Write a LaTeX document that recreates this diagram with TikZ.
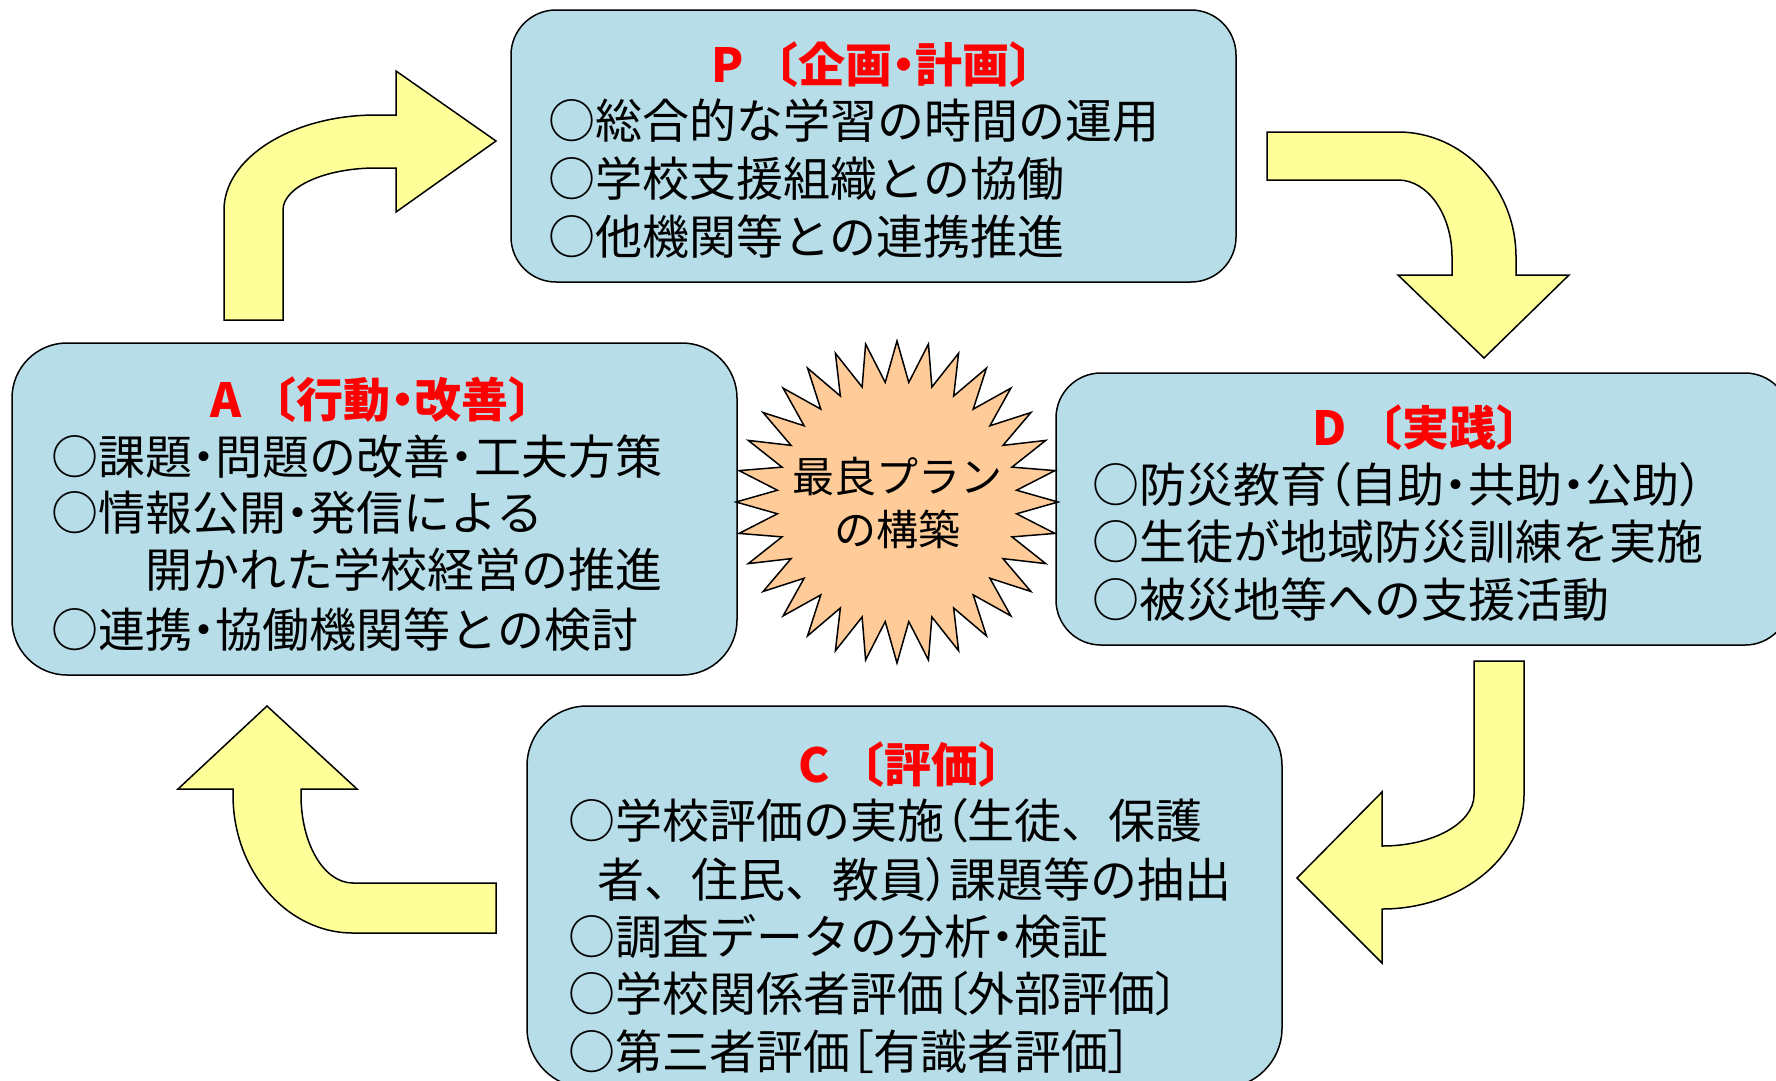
\documentclass[tikz,border=0pt]{standalone}
\usepackage{fontspec}
\setmainfont{Noto Sans CJK JP}
\usetikzlibrary{shapes.geometric}

\definecolor{boxfill}{RGB}{183,222,232}
\definecolor{arrowfill}{RGB}{255,255,153}
\definecolor{starfill}{RGB}{255,204,153}
\definecolor{titlered}{RGB}{255,0,0}

% narrow punctuation
\newcommand\prop[1]{{\addfontfeature{RawFeature=+palt}#1}}
\newcommand\dt{\prop{・}}

\begin{document}
\begin{tikzpicture}[x=1pt,y=-1pt,
  box/.style={draw,line width=1.5pt,fill=boxfill,inner sep=0pt},
  title/.style={text=titlered,inner sep=0pt,text height=41pt,text depth=6pt,
    font=\fontsize{47}{47}\selectfont\bfseries},
  item/.style={anchor=west,inner sep=0pt,text height=41pt,text depth=6pt,
    font=\fontsize{47}{47}\selectfont},
  bigarrow/.style={draw,line width=1.5pt,fill=arrowfill}]

\useasboundingbox (0,0) rectangle (1776,1080);
\clip (0,0) rectangle (1776,1080);

% arrows
\draw[bigarrow] (224,320) -- (224,210) .. controls (224,158) and (292,115) .. (376,115)
  -- (396,115) -- (396,71) -- (496,141) -- (396,212) -- (396,168) -- (376,168)
  .. controls (325,168) and (283,187) .. (283,210) -- (283,320) -- cycle;

\draw[bigarrow] (1267,132) -- (1398,132) .. controls (1463,132) and (1516,188) .. (1516,257)
  -- (1516,275) -- (1569,275) -- (1484,358) -- (1398,275) -- (1452,275) -- (1452,257)
  .. controls (1452,215) and (1428,180) .. (1398,180) -- (1267,180) -- cycle;

\draw[bigarrow] (1474,661) -- (1524,661) -- (1524,795) .. controls (1524,858) and (1460,909) .. (1382,909)
  -- (1382,963) -- (1297,878) -- (1382,792) -- (1382,846)
  .. controls (1433,846) and (1474,823) .. (1474,795) -- cycle;

\draw[bigarrow] (496,883) -- (353,883) .. controls (324,883) and (301,844) .. (301,795)
  -- (301,789) -- (357,789) -- (267,706) -- (178,789) -- (233,789) -- (233,795)
  .. controls (233,871) and (287,933) .. (353,933) -- (496,933) -- cycle;

% boxes
\node[box,minimum width=725pt,minimum height=272pt,rounded corners=45pt] (pbox) at (873.5,146) {};
\node[box,minimum width=725pt,minimum height=332pt,rounded corners=55pt] (abox) at (374.5,509) {};
\node[box,minimum width=734pt,minimum height=272pt,rounded corners=45pt] (dbox) at (1423,509) {};
\node[box,minimum width=755pt,minimum height=382pt,rounded corners=60pt] (cbox) at (904.5,897) {};

% star
\node[star,star points=32,star point ratio=1.34,minimum size=322pt,inner sep=0pt,
  draw,line width=1.5pt,fill=starfill] (seal) at (897,502) {};
\node[align=center,font=\fontsize{42}{53}\selectfont] (plan) at (897,503) {最良プラン\\の構築};

% P
\node[title] (ptitle) at (884,65) {P\hspace{8pt}〔企画\dt 計画〕};
\node[item] (pline1) at (548,121) {○総合的な学習の時間の運用};
\node[item] (pline2) at (548,179) {○学校支援組織との協働};
\node[item] (pline3) at (548,237) {○他機関等との連携推進};

% D
\node[title] (dtitle) at (1428,428) {D\hspace{8pt}〔実践〕};
\node[item] (dline1) at (1092,485) {○防災教育\prop{（}自助\dt 共助\dt 公助\prop{）}};
\node[item] (dline2) at (1092,542) {○生徒が地域防災訓練を実施};
\node[item] (dline3) at (1092,600) {○被災地等への支援活動};

% C
\node[title] (ctitle) at (912,765) {C\hspace{8pt}〔評価〕};
\node[item] (cline1) at (568,821) {○学校評価の実施\prop{（}生徒、保護};
\node[item] (cline2) at (597,880) {者、住民、教員\prop{）}課題等の抽出};
\node[item] (cline3) at (568,937) {○調査データの分析\dt 検証};
\node[item] (cline4) at (568,994) {○学校関係者評価\prop{〔}外部評価\prop{〕}};
\node[item] (cline5) at (568,1052) {○第三者評価\prop{［}有識者評価\prop{］}};

% A
\node[title] (atitle) at (383,400) {A\hspace{8pt}〔行動\dt 改善〕};
\node[item] (aline1) at (51,457) {○課題\dt 問題の改善\dt 工夫方策};
\node[item] (aline2) at (51,513) {○情報公開\dt 発信による};
\node[item] (aline3) at (145,570) {開かれた学校経営の推進};
\node[item] (aline4) at (51,630) {○連携\dt 協働機関等との検討};

\end{tikzpicture}
\end{document}
